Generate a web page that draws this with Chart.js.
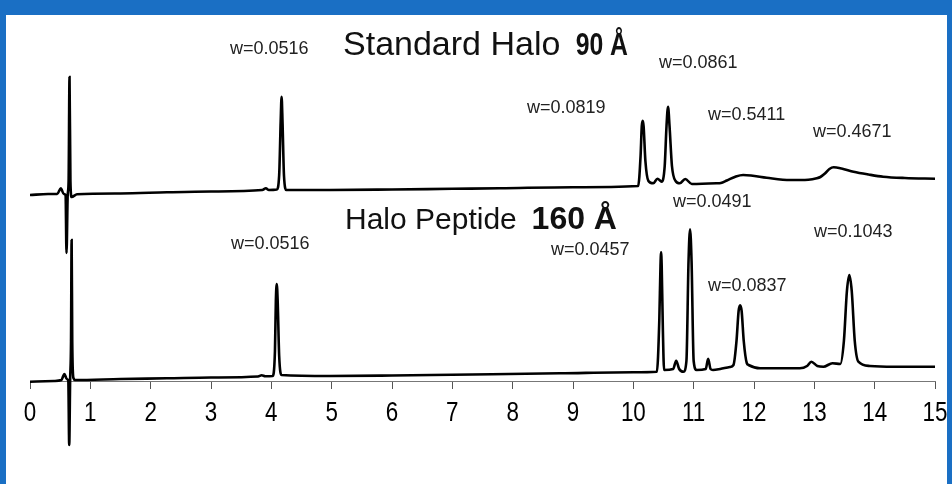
<!DOCTYPE html>
<html>
<head>
<meta charset="utf-8">
<script src="https://cdn.jsdelivr.net/npm/chart.js@4"></script>
<style>
  html, body { margin: 0; padding: 0; background: #fff; }
  #wrap { width: 952px; height: 484px; position: relative; }
</style>
</head>
<body>
<div id="wrap"><canvas id="chromChart" width="952" height="484"></canvas></div>
<script>
// retention time (min) and detector signal (a.u.)
const stdTime = [0.00, 0.30, 0.45, 0.51, 0.56, 0.59, 0.605, 0.625, 0.64, 0.655, 0.67, 0.69, 0.78, 1.5, 2.27, 3.0, 3.85, 3.91, 3.96, 4.09, 4.13, 4.155, 4.17, 4.185, 4.21, 4.25, 4.97, 6.0, 7.0, 7.79, 9.0, 10.08, 10.12, 10.14, 10.155, 10.17, 10.20, 10.25, 10.33, 10.40, 10.47, 10.52, 10.55, 10.575, 10.60, 10.64, 10.70, 10.77, 10.86, 10.97, 11.38, 11.45, 11.55, 11.7, 11.82, 11.95, 12.21, 12.6, 12.9, 13.04, 13.10, 13.18, 13.25, 13.32, 13.45, 13.65, 13.9, 14.14, 14.5, 15.0];
const stdSignal = [186, 187, 187, 192.7, 187, 186, 128, 186, 200, 304, 200, 184, 186.7, 187.5, 188.7, 189.5, 191, 192.7, 191, 191.5, 206, 260, 284.3, 260, 205, 191, 191, 191.5, 192.2, 192.7, 193.8, 195, 225, 255, 260.3, 255, 220, 200, 197.7, 202.3, 199.3, 215, 255, 274.3, 255, 215, 200, 197.7, 202, 197, 197.7, 198, 200.5, 204.5, 206, 205.5, 203.3, 201, 201.3, 202.7, 204, 207.7, 212, 213.7, 212.5, 209.3, 206.5, 204.3, 203, 202.3];

const pepTime = [0.00, 0.40, 0.52, 0.57, 0.61, 0.635, 0.65, 0.665, 0.68, 0.69, 0.70, 0.72, 0.75, 1.5, 2.27, 3.0, 3.78, 3.84, 3.90, 4.02, 4.06, 4.075, 4.09, 4.105, 4.13, 4.17, 4.97, 6.0, 7.0, 8.785, 10.0, 10.39, 10.43, 10.45, 10.46, 10.47, 10.49, 10.51, 10.66, 10.71, 10.76, 10.83, 10.88, 10.915, 10.94, 10.965, 11.0, 11.05, 11.20, 11.24, 11.28, 11.32, 11.44, 11.60, 11.66, 11.71, 11.745, 11.77, 11.795, 11.83, 11.88, 11.91, 12.1, 12.76, 12.88, 12.95, 13.05, 13.15, 13.30, 13.43, 13.49, 13.54, 13.58, 13.62, 13.67, 13.73, 13.92, 14.31, 15.0];
const pepSignal = [-0.7, 0, 1, 7, 2, 0, -64, 0, 40, 141, 40, 3, 1, 2, 2.7, 3.5, 4.5, 5.7, 4.7, 5, 30, 80, 97, 80, 25, 6, 5, 5.5, 6.3, 7.7, 8.8, 9.3, 60, 115, 128.7, 115, 50, 11, 12, 20.3, 12, 9.3, 20, 120, 151.7, 120, 20, 11, 12, 22.3, 12, 11, 12, 14, 16, 40, 70, 75.7, 70, 40, 18, 16, 12.7, 12.7, 15, 19.3, 15, 14.3, 17.7, 17, 40, 90, 106, 90, 40, 19.3, 15, 14.3, 14.3];

const xTickLabels = ["0", "1", "2", "3", "4", "5", "6", "7", "8", "9", "10", "11", "12", "13", "14", "15"];

// peak width notes, anchored at (time, signal)
const peakNotes = [
  { text: "w=0.0516", t: 3.315, v: 327 },
  { text: "w=0.0861", t: 10.426, v: 313 },
  { text: "w=0.0819", t: 8.238, v: 268 },
  { text: "w=0.5411", t: 11.238, v: 261 },
  { text: "w=0.4671", t: 12.978, v: 244 },
  { text: "w=0.0491", t: 10.657, v: 174 },
  { text: "w=0.0516", t: 3.331, v: 132 },
  { text: "w=0.0457", t: 8.635, v: 126 },
  { text: "w=0.0837", t: 11.238, v: 90 },
  { text: "w=0.1043", t: 12.995, v: 144 }
];

const traceTitles = [
  { name: "Standard Halo", pore: "90 Å", t: 5.188, tEnd: 9.912, v: 326, nameSize: 34, poreSize: 31, poreSqueeze: 0.8 },
  { name: "Halo Peptide", pore: "160 Å", t: 5.221, tEnd: 9.729, v: 152, nameSize: 30, poreSize: 32, poreSqueeze: 1 }
];

const toPoints = (xs, ys) => xs.map((x, i) => ({ x: x, y: ys[i] }));

// draws text squeezed horizontally (the original uses a narrow face)
function squeezedText(c, text, x, y, sx, align) {
  c.save();
  c.translate(x, y);
  c.scale(sx, 1);
  c.textAlign = align;
  c.fillText(text, 0, 0);
  c.restore();
}

const framePlugin = {
  id: "frame",
  beforeDraw(chart) {
    const c = chart.ctx;
    c.save();
    c.fillStyle = "#ffffff";
    c.fillRect(0, 0, chart.width, chart.height);
    c.restore();
  },
  afterDraw(chart) {
    const c = chart.ctx;
    const xs = chart.scales.x;
    const ys = chart.scales.y;
    c.save();
    c.textBaseline = "alphabetic";

    // tick labels, narrow face
    c.fillStyle = "#000";
    c.font = "28px 'Liberation Sans', Arial, sans-serif";
    xs.ticks.forEach((tk) => {
      squeezedText(c, xTickLabels[tk.value], xs.getPixelForValue(tk.value), 421, 0.8, "center");
    });

    c.fillStyle = "#222";
    c.font = "18px 'Liberation Sans', Arial, sans-serif";
    peakNotes.forEach((n) => {
      squeezedText(c, n.text, xs.getPixelForValue(n.t), ys.getPixelForValue(n.v), 1, "left");
    });

    c.fillStyle = "#111";
    traceTitles.forEach((tt) => {
      const y = ys.getPixelForValue(tt.v);
      c.font = tt.nameSize + "px 'Liberation Sans', Arial, sans-serif";
      squeezedText(c, tt.name, xs.getPixelForValue(tt.t), y, 1, "left");
      c.font = "bold " + tt.poreSize + "px 'Liberation Sans', Arial, sans-serif";
      squeezedText(c, tt.pore, xs.getPixelForValue(tt.tEnd), y, tt.poreSqueeze, "right");
    });

    // blue frame
    c.fillStyle = "#1a6fc4";
    c.fillRect(0, 0, chart.width, 15);
    c.fillRect(0, 0, 6, chart.height);
    c.fillRect(chart.width - 5, 0, 5, chart.height);
    c.restore();
  }
};

const ctx = document.getElementById("chromChart").getContext("2d");
new Chart(ctx, {
  type: "line",
  data: {
    datasets: [
      {
        label: "Standard Halo 90 Å",
        data: toPoints(stdTime, stdSignal),
        borderColor: "#000",
        borderWidth: 2.6,
        pointRadius: 0,
        cubicInterpolationMode: "monotone",
        clip: false,
      },
      {
        label: "Halo Peptide 160 Å",
        data: toPoints(pepTime, pepSignal),
        borderColor: "#000",
        borderWidth: 2.6,
        pointRadius: 0,
        cubicInterpolationMode: "monotone",
        clip: false,
      },
    ],
  },
  options: {
    responsive: false,
    animation: false,
    layout: { padding: { left: 30, right: 17, top: 15, bottom: 0 } },
    plugins: {
      legend: { display: false },
      title: { display: false },
      tooltip: { enabled: false },
    },
    scales: {
      x: {
        type: "linear",
        min: 0,
        max: 15,
        afterFit: (scale) => { scale.height = 103; },
        ticks: {
          stepSize: 1,
          color: "rgba(0,0,0,0)",
          padding: 3,
          font: { size: 20, family: "'Liberation Sans', Arial" },
          callback: (v) => xTickLabels[v],
        },
        grid: { drawOnChartArea: false, tickLength: 8, color: "#555" },
        border: { color: "#777", width: 1 },
      },
      y: {
        display: false,
        min: 0,
        max: 366,
      },
    },
  },
  plugins: [framePlugin],
});
</script>
</body>
</html>
